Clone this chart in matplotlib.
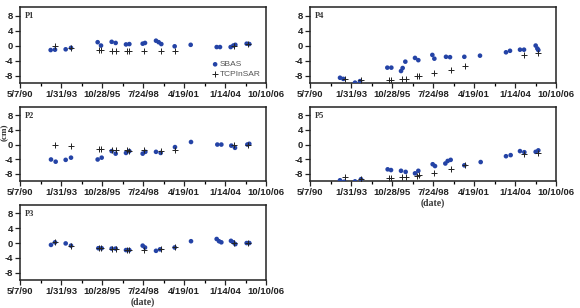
import matplotlib
matplotlib.use("Agg")
import matplotlib.pyplot as plt

# x values are days since 5/7/90 (the left edge of every axis)
tick_days = [0, 1000, 2000, 3000, 4000, 5000, 6000]
tick_labels = ["5/7/90", "1/31/93", "10/28/95", "7/24/98", "4/19/01", "1/14/04", "10/10/06"]
y_ticks = [8, 4, 0, -4, -8]

tcp_days = [862, 1244, 1915, 1984, 2255, 2333, 2602, 2667, 3016, 3431, 3772, 5215, 5557]

p1_sbas_d = [748, 854, 1114, 1244, 1894, 1976, 2236, 2333, 2585, 2667, 2992, 3049, 3317, 3382, 3447, 3772, 4163, 4797, 4878, 5138, 5203, 5252, 5528, 5593]
p1_sbas_v = [-1.2, -1.1, -1.0, -0.6, 0.9, 0.0, 1.0, 0.7, 0.3, 0.4, 0.5, 0.7, 1.3, 0.9, 0.4, -0.2, 0.2, -0.4, -0.4, -0.4, 0.0, 0.2, 0.5, 0.4]
p1_tcp_v = [0.0, -0.6, -1.2, -1.2, -1.5, -1.5, -1.5, -1.5, -1.5, -1.5, -1.5, 0.0, 0.4]

p2_sbas_d = [756, 870, 1114, 1244, 1894, 1992, 2236, 2333, 2585, 2667, 2992, 3057, 3317, 3431, 3780, 4171, 4813, 4911, 5154, 5244, 5545, 5593]
p2_sbas_v = [-4.1, -4.7, -4.2, -3.6, -4.1, -3.6, -1.8, -2.5, -2.3, -1.8, -2.5, -2.0, -2.0, -2.3, -0.7, 0.7, 0.0, 0.0, -0.3, -0.9, 0.0, 0.2]
p2_tcp_v = [0.0, -0.5, -1.2, -1.2, -1.4, -1.4, -1.6, -1.8, -1.6, -1.8, -1.4, 0.0, 0.0]

p3_sbas_d = [756, 854, 1114, 1244, 1911, 1992, 2236, 2333, 2585, 2667, 2992, 3049, 3317, 3415, 3772, 4171, 4797, 4854, 4911, 5146, 5203, 5252, 5528, 5593]
p3_sbas_v = [-0.5, 0.2, -0.1, -0.7, -1.4, -1.4, -1.5, -1.5, -1.9, -1.9, -0.7, -1.2, -2.1, -1.7, -1.2, 0.5, 1.1, 0.5, 0.2, 0.6, 0.2, -0.3, 0.0, 0.0]
p3_tcp_v = [0.2, -0.7, -1.4, -1.4, -1.5, -1.5, -1.9, -1.9, -1.9, -1.7, -1.2, 0.0, 0.0]

p4_sbas_d = [732, 813, 1098, 1220, 1886, 1984, 2220, 2260, 2325, 2561, 2642, 2984, 3033, 3317, 3415, 3764, 4146, 4780, 4878, 5122, 5220, 5504, 5545, 5569]
p4_sbas_v = [-8.6, -8.9, -9.9, -9.5, -5.9, -5.9, -6.8, -6.0, -4.3, -3.3, -3.9, -2.5, -3.5, -3.0, -3.1, -3.0, -2.7, -1.8, -1.4, -1.1, -1.1, 0.0, -0.8, -1.2]
p4_tcp_v = [-8.9, -9.3, -9.1, -9.1, -8.8, -8.8, -8.2, -8.2, -7.3, -6.6, -5.5, -2.5, -2.1]

p5_sbas_d = [732, 837, 1098, 1244, 1894, 1976, 2220, 2333, 2561, 2642, 2992, 3049, 3301, 3358, 3431, 3764, 4163, 4780, 4894, 5122, 5228, 5504, 5569]
p5_sbas_v = [-9.8, -10.2, -10.1, -9.5, -6.8, -7.0, -7.2, -7.5, -7.9, -7.2, -5.4, -5.9, -5.2, -4.5, -4.2, -5.7, -4.8, -3.2, -2.9, -1.8, -2.1, -2.0, -1.6]
p5_tcp_v = [-9.0, -9.5, -9.3, -9.3, -9.0, -9.0, -8.6, -8.3, -7.7, -6.8, -5.7, -2.7, -2.3]

panels = [
    ("P1", p1_sbas_d, p1_sbas_v, p1_tcp_v),
    ("P2", p2_sbas_d, p2_sbas_v, p2_tcp_v),
    ("P3", p3_sbas_d, p3_sbas_v, p3_tcp_v),
    ("P4", p4_sbas_d, p4_sbas_v, p4_tcp_v),
    ("P5", p5_sbas_d, p5_sbas_v, p5_tcp_v),
]

W, H = 580, 308
fig = plt.figure(figsize=(W / 100, H / 100), dpi=100)

# pixel boxes (left, top, right, bottom)
boxes = {
    "P1": (20, 7, 266, 83),
    "P2": (20, 107, 266, 181),
    "P3": (20, 205, 266, 280),
    "P4": (310, 7, 556, 83),
    "P5": (310, 107, 556, 181),
}

SB_COLOR = "#2443a6"
tick_font = dict(family="Liberation Sans", weight="bold", size=6.8)

for name, sd, sv, tv in panels:
    l, t, r, b = boxes[name]
    ax = fig.add_axes([l / W, 1 - b / H, (r - l) / W, (b - t) / H])
    ax.scatter(sd, sv, s=11, color=SB_COLOR, edgecolors="none", zorder=3, label="SBAS")
    ax.scatter(tcp_days, tv, s=18, marker="+", color="#222222", linewidths=0.7, zorder=4, label="TCPInSAR")
    ax.set_xlim(0, 6000)
    ax.set_ylim(-10, 10.3)
    ax.set_xticks(tick_days)
    ax.set_xticklabels(tick_labels, fontdict=tick_font)
    ax.set_xticks([500, 1500, 2500, 3500, 4500, 5500], minor=True)
    ax.set_yticks(y_ticks)
    ax.set_yticklabels([str(v) for v in y_ticks], fontdict=tick_font)
    ax.tick_params(axis="both", which="major", direction="out", length=3.5, width=0.9, pad=1.5, colors="#222222")
    ax.tick_params(axis="x", which="minor", direction="out", length=2.5, width=0.9)
    ax.tick_params(axis="y", which="minor", left=False)
    for sp in ax.spines.values():
        sp.set_linewidth(1.1)
        sp.set_color("#222222")
    ax.text(0.02, 0.93, name, transform=ax.transAxes, ha="left", va="top",
            family="Liberation Serif", weight="bold", size=6, color="#333333")
    if name == "P1":
        ax.legend(loc="lower right", frameon=False, handletextpad=0.1,
                  borderaxespad=0.2, labelspacing=0.2, labelcolor="#555555",
                  handlelength=1.0, prop=dict(family="Liberation Sans", size=6))

fig.text(433 / W, 1 - 198 / H, "(date)", ha="center", va="top",
         family="Liberation Serif", weight="bold", size=7, color="#333333")
fig.text(143 / W, 1 - 297 / H, "(date)", ha="center", va="top",
         family="Liberation Serif", weight="bold", size=7, color="#333333")
fig.text(1 / W, 1 - 132 / H, "(cm)", ha="left", va="center", rotation=90,
         family="Liberation Serif", weight="bold", size=6.5, color="#333333")

fig.savefig("out.png", dpi=100)
